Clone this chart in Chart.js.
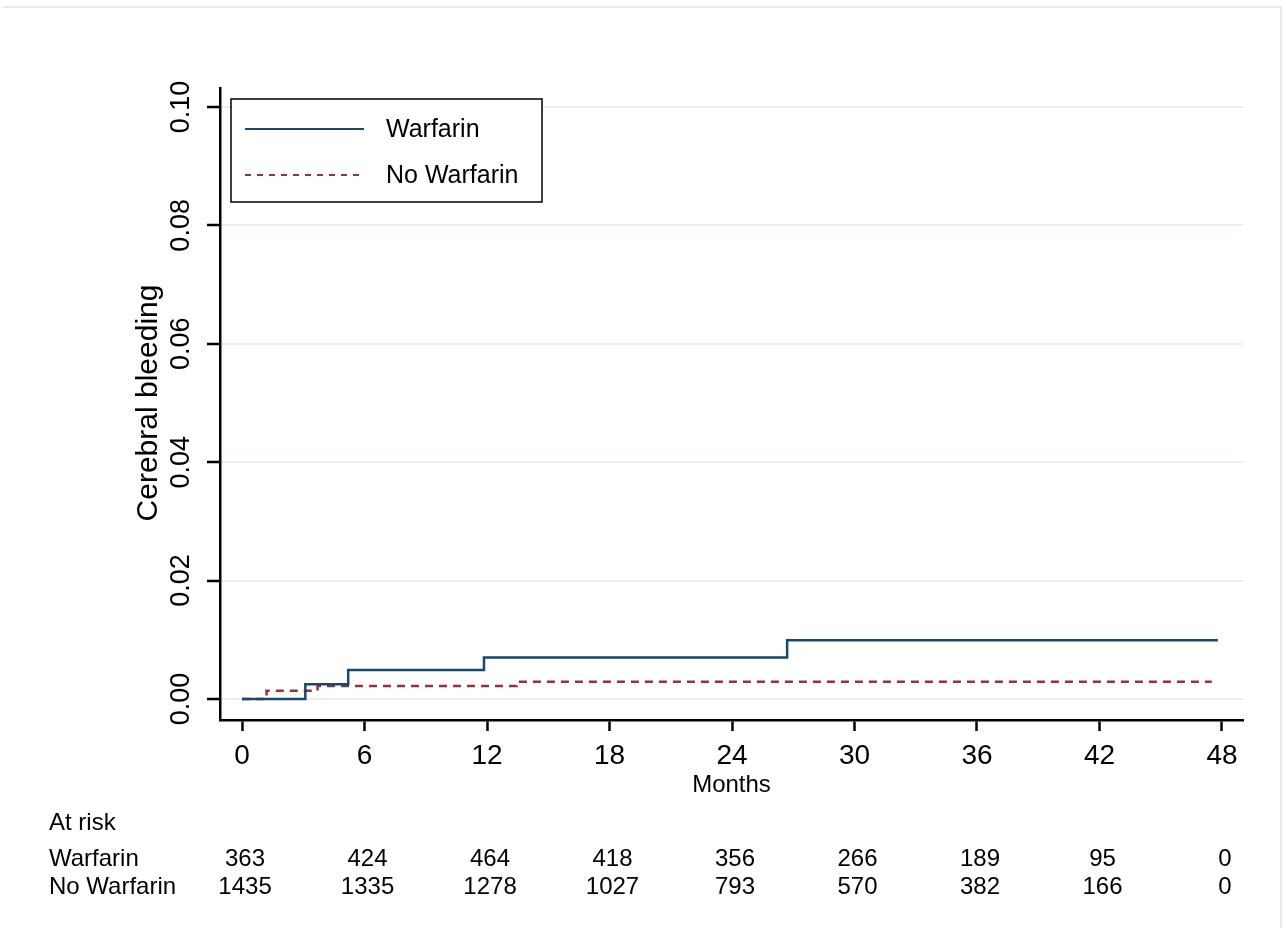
<!DOCTYPE html>
<html>
<head>
<meta charset="utf-8">
<script src="https://cdn.jsdelivr.net/npm/chart.js@4/dist/chart.umd.min.js"></script>
<style>
  html, body { margin: 0; padding: 0; background: #fff; }
  canvas { display: block; }
</style>
</head>
<body>
<canvas id="kmChart" width="1286" height="928"></canvas>
<script>
// tick values
const monthTicks = [0, 6, 12, 18, 24, 30, 36, 42, 48]
const bleedTicks = [0, 0.02, 0.04, 0.06, 0.08, 0.10]

// step curves (time in months, cumulative incidence)
const warfarinMonths = [0, 3.1, 5.2, 11.85, 26.7, 47.8]
const warfarinValues = [0, 0.0025, 0.0049, 0.0070, 0.0099, 0.0099]
const noWarfarinMonths = [0, 1.2, 3.7, 13.45, 47.5]
const noWarfarinValues = [0, 0.0014, 0.0022, 0.0029, 0.0029]

// number at risk
const riskLabels = ['Warfarin', 'No Warfarin']
const riskWarfarin = [363, 424, 464, 418, 356, 266, 189, 95, 0]
const riskNoWarfarin = [1435, 1335, 1278, 1027, 793, 570, 382, 166, 0]

const FONT = "'Liberation Sans', Arial, sans-serif"
const NAVY = '#1a476f'
const MAROON = '#90353b'

function toPoints( xs, ys ) {
  return xs.map(( x, i ) => ({ x: x, y: ys[i] }))
}

const textPlugin = {
  id: 'stataText',
  afterDraw( chart ) {
    const ctx = chart.ctx
    const xs = chart.scales.x
    const ys = chart.scales.y
    const area = chart.chartArea
    ctx.save()

    // faint graph region outline
    ctx.strokeStyle = '#e3ebee'
    ctx.lineWidth = 2
    ctx.beginPath()
    ctx.moveTo(3, 7)
    ctx.lineTo(1281, 7)
    ctx.lineTo(1281, 928)
    ctx.stroke()

    ctx.fillStyle = '#000'

    // y tick labels, rotated like Stata
    ctx.font = `27px ${FONT}`
    ctx.textAlign = 'center'
    ctx.textBaseline = 'middle'
    bleedTicks.forEach(v => {
      ctx.save()
      ctx.translate(182, ys.getPixelForValue(v))
      ctx.rotate(-Math.PI / 2)
      ctx.fillText(v.toFixed(2), 0, 0)
      ctx.restore()
    })

    // y title
    ctx.save()
    ctx.font = `30px ${FONT}`
    ctx.translate(149, 403)
    ctx.rotate(-Math.PI / 2)
    ctx.fillText('Cerebral bleeding', 0, 0)
    ctx.restore()

    // x tick labels
    ctx.font = `28px ${FONT}`
    monthTicks.forEach(m => {
      ctx.fillText(String(m), xs.getPixelForValue(m), 756)
    })
    ctx.font = `24px ${FONT}`
    ctx.fillText('Months', (area.left + area.right) / 2, 785)

    // legend
    ctx.fillStyle = '#fff'
    ctx.fillRect(231, 99, 311, 103)
    ctx.strokeStyle = '#000'
    ctx.lineWidth = 1.5
    ctx.strokeRect(231, 99, 311, 103)
    ctx.lineWidth = 2
    ctx.strokeStyle = NAVY
    ctx.beginPath()
    ctx.moveTo(245, 129)
    ctx.lineTo(364, 129)
    ctx.stroke()
    ctx.strokeStyle = MAROON
    ctx.setLineDash([6, 6])
    ctx.beginPath()
    ctx.moveTo(245, 175)
    ctx.lineTo(364, 175)
    ctx.stroke()
    ctx.setLineDash([])
    ctx.fillStyle = '#000'
    ctx.textAlign = 'left'
    ctx.font = `25px ${FONT}`
    ctx.fillText('Warfarin', 386, 130)
    ctx.fillText('No Warfarin', 386, 176)

    // at risk table
    ctx.font = `24px ${FONT}`
    ctx.fillText('At risk', 49, 823)
    ctx.fillText(riskLabels[0], 49, 859)
    ctx.fillText(riskLabels[1], 49, 887)
    ctx.textAlign = 'center'
    monthTicks.forEach(( m, i ) => {
      const px = xs.getPixelForValue(m) + 3
      ctx.fillText(String(riskWarfarin[i]), px, 859)
      ctx.fillText(String(riskNoWarfarin[i]), px, 887)
    })

    ctx.restore()
  }
}

const config = {
  type: 'line',
  data: {
    datasets: [
      {
        label: 'Warfarin',
        data: toPoints(warfarinMonths, warfarinValues),
        borderColor: NAVY,
        borderWidth: 2.5,
        stepped: 'before',
        pointRadius: 0,
        fill: false
      },
      {
        label: 'No Warfarin',
        data: toPoints(noWarfarinMonths, noWarfarinValues),
        borderColor: MAROON,
        borderWidth: 2.5,
        borderDash: [8, 6],
        stepped: 'before',
        pointRadius: 0,
        fill: false
      }
    ]
  },
  options: {
    responsive: false,
    animation: false,
    layout: { padding: { left: 200, right: 43, top: 88, bottom: 197 } },
    plugins: {
      legend: { display: false },
      tooltip: { enabled: false }
    },
    scales: {
      x: {
        type: 'linear',
        min: -1.08,
        max: 49.03,
        afterBuildTicks: s => { s.ticks = monthTicks.map(v => ({ value: v })) },
        afterFit: s => { s.height = 11 },
        ticks: { display: false },
        grid: { drawOnChartArea: false, tickLength: 11, tickColor: '#000', tickWidth: 2.5 },
        border: { color: '#000', width: 2.5 }
      },
      y: {
        type: 'linear',
        min: -0.00355,
        max: 0.1032,
        afterBuildTicks: s => { s.ticks = bleedTicks.map(v => ({ value: v })) },
        afterFit: s => { s.width = 20 },
        ticks: { display: false },
        grid: { color: '#e8eff1', lineWidth: 2, tickLength: 13, tickColor: '#000', tickWidth: 2.5 },
        border: { color: '#000', width: 2.5 }
      }
    }
  },
  plugins: [textPlugin]
}

const kmChart = new Chart(document.getElementById('kmChart'), config)
</script>
</body>
</html>
